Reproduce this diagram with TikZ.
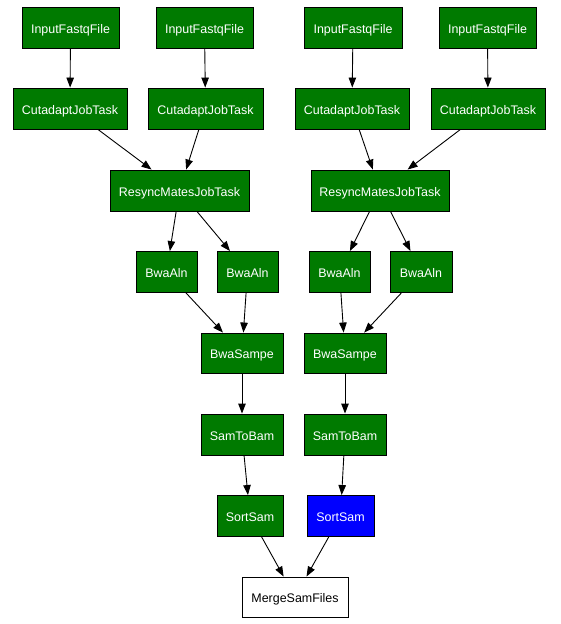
\documentclass[tikz,border=0pt]{standalone}
\usepackage{fontspec}
\setmainfont{Liberation Sans}
\usetikzlibrary{arrows.meta}
\definecolor{taskgreen}{RGB}{0,122,0}
\definecolor{taskblue}{RGB}{0,0,255}
\begin{document}
\begin{tikzpicture}[x=1bp,y=-1bp,
  task/.style={draw=black, line width=0.9bp, fill=taskgreen, text=white,
    minimum height=41bp, inner sep=0pt, text height=11.6bp, text depth=0bp,
    font=\fontsize{12.5}{14}\selectfont},
  edge/.style={draw=black, line width=0.9bp, -{Triangle[length=10bp,width=7.5bp]}}]
\useasboundingbox (0,0) rectangle (561,624);

% inputs
\node[task, minimum width=97bp] (in1) at (70.5,27.5) {InputFastqFile};
\node[task, minimum width=97bp] (in2) at (204.5,27.5) {InputFastqFile};
\node[task, minimum width=98bp] (in3) at (353,27.5) {InputFastqFile};
\node[task, minimum width=97bp] (in4) at (487.5,27.5) {InputFastqFile};

% adapter trimming
\node[task, minimum width=114bp] (cu1) at (70,108.5) {CutadaptJobTask};
\node[task, minimum width=115bp] (cu2) at (205.5,108.5) {CutadaptJobTask};
\node[task, minimum width=114bp] (cu3) at (352,108.5) {CutadaptJobTask};
\node[task, minimum width=114bp] (cu4) at (488,108.5) {CutadaptJobTask};

% mate resync
\node[task, minimum width=139bp] (rs1) at (179.5,190.5) {ResyncMatesJobTask};
\node[task, minimum width=138bp] (rs2) at (380,190.5) {ResyncMatesJobTask};

% alignment
\node[task, minimum width=61bp] (ba1) at (166.5,272) {BwaAln};
\node[task, minimum width=61bp] (ba2) at (247.5,272) {BwaAln};
\node[task, minimum width=61bp] (ba3) at (339.5,272) {BwaAln};
\node[task, minimum width=62bp] (ba4) at (421,272) {BwaAln};

\node[task, minimum width=82bp, minimum height=40bp] (bs1) at (242,353) {BwaSampe};
\node[task, minimum width=82bp, minimum height=40bp] (bs2) at (345,353) {BwaSampe};

\node[task, minimum width=82bp] (sb1) at (242,434.5) {SamToBam};
\node[task, minimum width=82bp] (sb2) at (345,434.5) {SamToBam};

\node[task, minimum width=66bp] (so1) at (250,516) {SortSam};
\node[task, minimum width=67bp, fill=taskblue] (so2) at (340.5,516) {SortSam};

\node[task, minimum width=106bp, minimum height=40bp, fill=white, text=black] (mg) at (295,597) {MergeSamFiles};

% dependencies
\draw[edge] (in1) -- (cu1);
\draw[edge] (in2) -- (cu2);
\draw[edge] (in3) -- (cu3);
\draw[edge] (in4) -- (cu4);
\draw[edge] (cu1) -- (rs1);
\draw[edge] (cu2) -- (rs1);
\draw[edge] (cu3) -- (rs2);
\draw[edge] (cu4) -- (rs2);
\draw[edge] (rs1) -- (ba1);
\draw[edge] (rs1) -- (ba2);
\draw[edge] (rs2) -- (ba3);
\draw[edge] (rs2) -- (ba4);
\draw[edge] (ba1) -- (bs1);
\draw[edge] (ba2) -- (bs1);
\draw[edge] (ba3) -- (bs2);
\draw[edge] (ba4) -- (bs2);
\draw[edge] (bs1) -- (sb1);
\draw[edge] (bs2) -- (sb2);
\draw[edge] (sb1) -- (so1);
\draw[edge] (sb2) -- (so2);
\draw[edge] (so1) -- (mg);
\draw[edge] (so2) -- (mg);
\end{tikzpicture}
\end{document}
